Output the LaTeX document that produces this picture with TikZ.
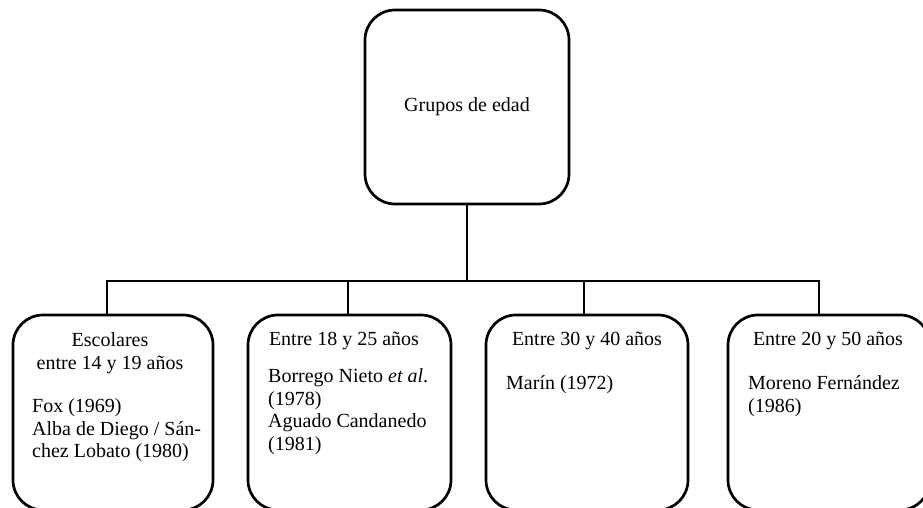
\documentclass[tikz,border=0pt]{standalone}
\usepackage{fontspec}
\setmainfont{Liberation Serif}
\begin{document}
\begin{tikzpicture}[x=1pt,y=-1pt,
  box/.style={draw, line width=2.7pt, rounded corners=30pt, inner sep=0pt},
  link/.style={line width=2.5pt},
  txt/.style={inner sep=0pt, font=\fontsize{20}{22.5}\selectfont},
  head/.style={txt, align=center, anchor=north},
  body/.style={txt, align=left, anchor=north west}]
\useasboundingbox (0,0) rectangle (923,508);
\clip (0,0) rectangle (923,508);

% root box
\node[box, minimum width=204pt, minimum height=194pt] (top) at (467,107) {};
\node[txt] (title) at (top.center) {Grupos de edad};

% age group boxes
\node[box, minimum width=200pt, minimum height=195pt] (b1) at (113,412.5) {};
\node[box, minimum width=203pt, minimum height=195pt] (b2) at (349.5,412.5) {};
\node[box, minimum width=202pt, minimum height=195pt] (b3) at (587,412.5) {};
\node[box, minimum width=202pt, minimum height=195pt] (b4) at (829,412.5) {};

% branching points of the tree
\coordinate (j1) at (107,281);
\coordinate (j2) at (348,281);
\coordinate (j3) at (584,281);
\coordinate (j4) at (819,281);

\draw[link] (top.south) -- (top.south |- j1);
\draw[link, line join=miter] (b1.north -| j1) -- (j1) -- (j4) -- (b4.north -| j4);
\draw[link] (j2) -- (b2.north -| j2);
\draw[link] (j3) -- (b3.north -| j3);

% box contents
\node[head] (h1) at (110,332.5) {Escolares\\entre 14 y 19 años};
\node[body] (t1) at (32,398.5) {Fox (1969)\\Alba de Diego / Sán-\\chez Lobato (1980)};

\node[head] (h2) at (344,331.5) {Entre 18 y 25 años};
\node[body] (t2) at (268,368.5) {Borrego Nieto \textit{et al}.\\(1978)\\Aguado Candanedo\\(1981)};

\node[head] (h3) at (587,331.5) {Entre 30 y 40 años};
\node[body] (t3) at (506,375.5) {Marín (1972)};

\node[head] (h4) at (828,331.5) {Entre 20 y 50 años};
\node[body] (t4) at (748,375.5) {Moreno Fernández\\(1986)};
\end{tikzpicture}
\end{document}
